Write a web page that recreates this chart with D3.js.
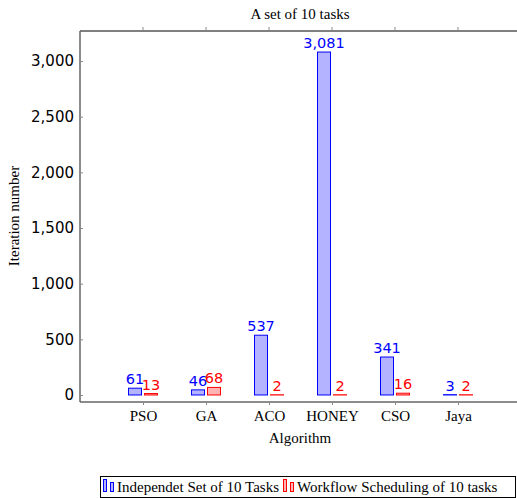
<!DOCTYPE html>
<html><head><meta charset="utf-8">
<script src="https://cdn.jsdelivr.net/npm/d3@7"></script>
<style>body{margin:0;background:#fff}</style>
</head><body>
<script>
const categories = ["PSO","GA","ACO","HONEY","CSO","Jaya"];
const independent = [61,46,537,3081,341,3];
const workflow = [13,68,2,2,16,2];
const yTicks = [0,500,1000,1500,2000,2500,3000];
const seriesNames = ["Independet Set of 10 Tasks","Workflow Scheduling of 10 tasks"];

(function(){
const W=517,H=498;
const svg=d3.select("body").append("svg").attr("width",W).attr("height",H);
const pL=80,pR=517,pT=31,pB=402;
const x=d3.scalePoint().domain(categories).range([143,458]);
const y=d3.scaleLinear().domain([-63,3270]).range([pB,pT]);
const serif="'Liberation Serif','Times New Roman',serif";
const sans="'DejaVu Sans',sans-serif";

svg.append("line").attr("x1",pL).attr("x2",pR).attr("y1",pT).attr("y2",pT).attr("stroke","#000").attr("stroke-width",1);
svg.selectAll(".tt").data(categories).join("line").attr("x1",d=>x(d)).attr("x2",d=>x(d)).attr("y1",pT-4).attr("y2",pT).attr("stroke","#888");
const ya=svg.append("g").attr("transform",`translate(${pL},0)`).call(d3.axisLeft(y).tickValues(yTicks).tickSize(-3).tickPadding(6).tickFormat(d3.format(",")));
ya.select(".domain").attr("stroke","#666").attr("stroke-width",1.5).attr("d",`M0,${pT}V${pB}`);
ya.selectAll(".tick line").attr("stroke","#888");
ya.selectAll("text").attr("font-family",sans).attr("font-size",15).attr("fill","#000");
const xa=svg.append("g").attr("transform",`translate(0,${pB})`).call(d3.axisBottom(x).tickSize(3).tickPadding(5).tickSizeOuter(0));
xa.select(".domain").attr("stroke","#666").attr("stroke-width",1.5).attr("d",`M${pL},0H${pR}`);
xa.selectAll(".tick line").attr("stroke","#888");
xa.selectAll("text").attr("font-family",serif).attr("font-size",15).attr("fill","#000");

const bw=13, off=8;
const series=[{vals:independent,fill:"#b3b3ff",stroke:"#0000ff",dx:-off},{vals:workflow,fill:"#ffb3b3",stroke:"#ff0000",dx:off}];
series.forEach(s=>{
  svg.selectAll(null).data(categories).join("rect")
    .attr("x",(d)=>x(d)+s.dx-bw/2).attr("width",bw)
    .attr("y",(d,i)=>y(s.vals[i])).attr("height",(d,i)=>Math.max(0,y(0)-y(s.vals[i])))
    .attr("fill",s.fill).attr("stroke",s.stroke).attr("stroke-width",1);
  svg.selectAll(null).data(categories).join("text")
    .attr("x",d=>x(d)+s.dx).attr("y",(d,i)=>y(s.vals[i])-4)
    .attr("text-anchor","middle").attr("font-family",sans).attr("font-size",14.5)
    .attr("fill",s.stroke).text((d,i)=>d3.format(",")(s.vals[i]));
});

svg.append("text").attr("x",300).attr("y",19).attr("text-anchor","middle").attr("font-family",serif).attr("font-size",15).text("A set of 10 tasks");
svg.append("text").attr("x",300).attr("y",443).attr("text-anchor","middle").attr("font-family",serif).attr("font-size",15).text("Algorithm");
svg.append("text").attr("transform","translate(19,216) rotate(-90)").attr("text-anchor","middle").attr("font-family",serif).attr("font-size",15).text("Iteration number");

const lg=svg.append("g");
lg.append("rect").attr("x",100.5).attr("y",476.5).attr("width",415).attr("height",21).attr("fill","none").attr("stroke","#000");
const items=[{x:103,c:series[0],t:seriesNames[0]},{x:283,c:series[1],t:seriesNames[1]}];
items.forEach(it=>{
  lg.append("rect").attr("x",it.x+0.5).attr("y",479.5).attr("width",3).attr("height",12).attr("fill",it.c.fill).attr("stroke",it.c.stroke);
  lg.append("rect").attr("x",it.x+7.5).attr("y",482.5).attr("width",3).attr("height",9).attr("fill",it.c.fill).attr("stroke",it.c.stroke);
  lg.append("text").attr("x",it.x+14).attr("y",492).attr("font-family",serif).attr("font-size",15).text(it.t);
});
})();
</script>
</body></html>
